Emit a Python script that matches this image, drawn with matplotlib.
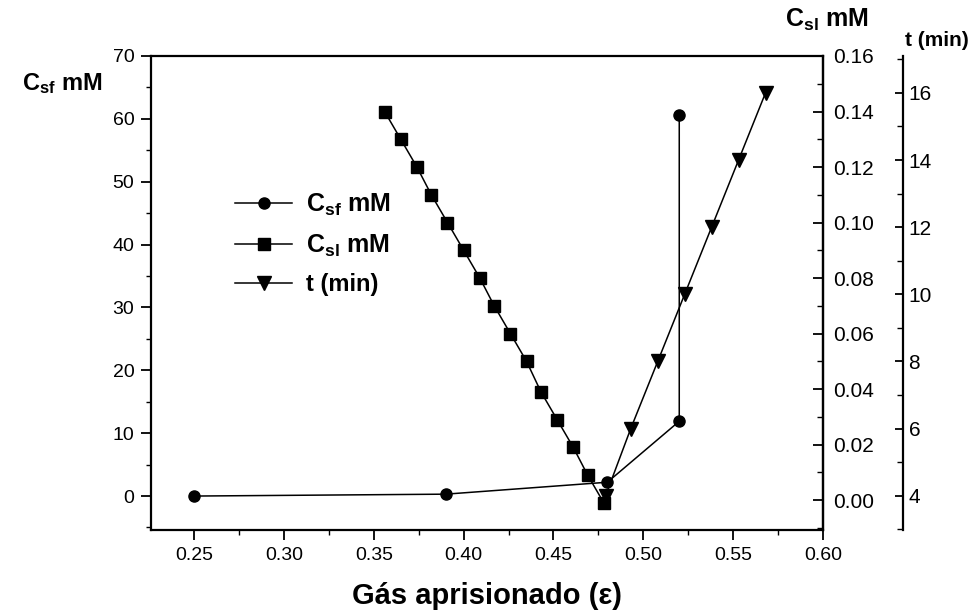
import matplotlib
matplotlib.use("Agg")
import matplotlib.pyplot as plt
from matplotlib import font_manager
from matplotlib.ticker import MultipleLocator, FormatStrFormatter

plt.rcParams['font.family'] = ['Liberation Sans', 'DejaVu Sans']
plt.rcParams['mathtext.fontset'] = 'custom'
plt.rcParams['mathtext.rm'] = 'Liberation Sans'
plt.rcParams['mathtext.bf'] = 'Liberation Sans:bold'
plt.rcParams['mathtext.it'] = 'Liberation Sans:italic'

# fonte estreita para os numeros dos eixos, se existir
installed = {f.name for f in font_manager.fontManager.ttflist}
if 'Liberation Sans Narrow' in installed:
    tick_font, tick_size = 'Liberation Sans Narrow', 16
else:
    tick_font, tick_size = 'Liberation Sans', 14

# Csf (mM) - eixo da esquerda
eps_sf = [0.25, 0.39, 0.48, 0.52, 0.52]
c_sf = [0.0, 0.3, 2.2, 11.9, 60.6]

# Csl (mM) - primeiro eixo da direita
eps_sl = [0.356, 0.365, 0.374, 0.382, 0.391, 0.400, 0.409, 0.417,
          0.426, 0.435, 0.443, 0.452, 0.461, 0.469, 0.478]
c_sl = [0.140, 0.130, 0.120, 0.110, 0.100, 0.090, 0.080, 0.070,
        0.060, 0.050, 0.039, 0.029, 0.019, 0.009, -0.001]

# tempo (min) - segundo eixo da direita
eps_t = [0.479, 0.493, 0.508, 0.523, 0.538, 0.553, 0.568]
t_min = [4, 6, 8, 10, 12, 14, 16]

lab_sf = r'C$_{\mathbf{sf}}$ mM'
lab_sl = r'C$_{\mathbf{sl}}$ mM'
lab_t = 't (min)'

W, H = 970, 613
fig = plt.figure(figsize=(W / 100, H / 100), dpi=100)
ax = fig.add_axes([151 / W, 83 / H, 672 / W, 474 / H])
ax2 = ax.twinx()
ax3 = ax.twinx()
ax3.spines['right'].set_position(('axes', 1.119))

kw = dict(color='black', lw=1.1, markerfacecolor='black', markeredgecolor='black')
l1, = ax.plot(eps_sf, c_sf, marker='o', ms=8, **kw)
l2, = ax2.plot(eps_sl, c_sl, marker='s', ms=8, **kw)
l3, = ax3.plot(eps_t, t_min, marker='v', ms=9.5, **kw)

ax.set_xlim(0.226, 0.60)
ax.set_ylim(-5.4, 70)
ax2.set_ylim(-0.0108, 0.16)
ax3.set_ylim(2.98, 17.1)

# eixo x e eixo esquerdo
ax.xaxis.set_major_locator(MultipleLocator(0.05))
ax.xaxis.set_minor_locator(MultipleLocator(0.025))
ax.xaxis.set_major_formatter(FormatStrFormatter('%.2f'))
ax.yaxis.set_major_locator(MultipleLocator(10))
ax.yaxis.set_minor_locator(MultipleLocator(5))
ax.tick_params(which='major', direction='out', length=7, width=1.3, labelsize=tick_size,
               labelfontfamily=tick_font, pad=5)
ax.tick_params(which='minor', direction='out', length=3.5, width=1.0)
ax.tick_params(top=False, right=False, which='both')

# eixo Csl
ax2.yaxis.set_major_locator(MultipleLocator(0.02))
ax2.yaxis.set_minor_locator(MultipleLocator(0.01))
ax2.yaxis.set_major_formatter(FormatStrFormatter('%.2f'))
ax2.tick_params(axis='y', which='major', direction='in', length=7, width=1.3,
                labelsize=tick_size + 1, labelfontfamily=tick_font, pad=7)
ax2.tick_params(axis='y', which='minor', direction='in', length=4.5, width=1.0)

# eixo do tempo
ax3.yaxis.set_major_locator(MultipleLocator(2))
ax3.yaxis.set_minor_locator(MultipleLocator(1))
ax3.tick_params(axis='y', which='major', direction='in', length=6, width=1.3,
                labelsize=tick_size + 1, labelfontfamily=tick_font, pad=4)
ax3.tick_params(axis='y', which='minor', direction='in', length=4, width=1.0)

for a in (ax, ax2, ax3):
    for s in a.spines.values():
        s.set_linewidth(1.6)
for a in (ax2, ax3):
    for side in ('left', 'top', 'bottom'):
        a.spines[side].set_visible(False)

# titulos dos eixos
fig.text(62 / W, 1 - 84 / H, lab_sf, fontsize=17, fontweight='bold', ha='center', va='center')
fig.text(827 / W, 1 - 20 / H, lab_sl, fontsize=18, fontweight='bold', ha='center', va='center')
fig.text(905 / W, 1 - 40 / H, lab_t, fontsize=15, fontweight='bold', ha='left', va='center')
fig.text(487 / W, 1 - 596 / H, 'Gás aprisionado (ε)', fontsize=21, fontweight='bold',
         ha='center', va='center')

leg = fig.legend([l1, l2, l3], [lab_sf, lab_sl, lab_t], loc='upper left',
                 bbox_to_anchor=(235 / W, 1 - 192 / H), frameon=False,
                 prop={'size': 18, 'weight': 'bold'}, handlelength=2.3,
                 handletextpad=0.55, labelspacing=0.58, borderpad=0, borderaxespad=0)
leg.get_texts()[2].set_fontsize(17)

fig.savefig('out.png', dpi=100)
